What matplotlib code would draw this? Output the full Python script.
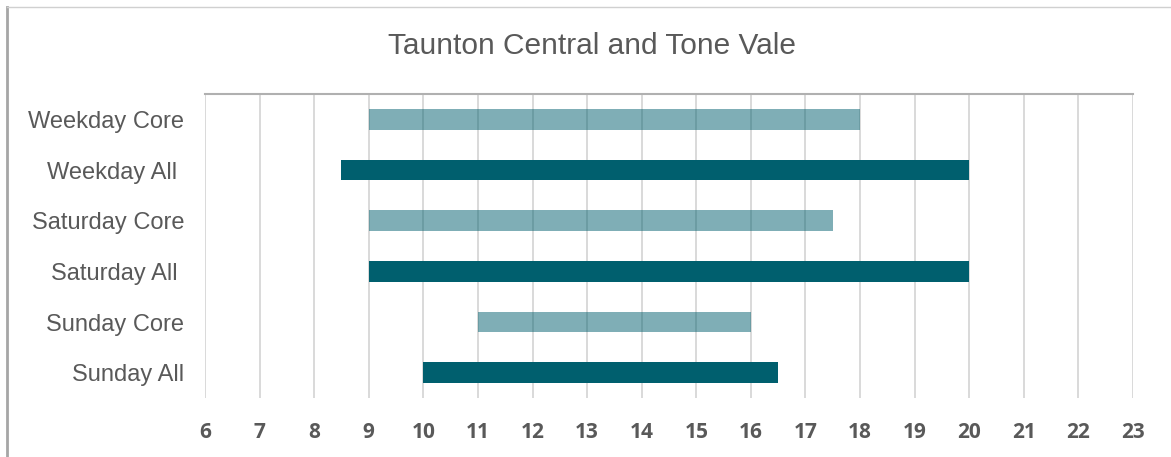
import matplotlib.pyplot as plt
from matplotlib.lines import Line2D

categories = ["Weekday Core", "Weekday All ", "Saturday Core", "Saturday All ",
              "Sunday Core", "Sunday All"]
starts = [9, 8.5, 9, 9, 11, 10]
ends = [18, 20, 17.5, 20, 16, 16.5]
is_core = [True, False, True, False, True, False]
xticks = list(range(6, 24))

teal = "#005F6E"
grey_txt = "#595959"

fig = plt.figure(figsize=(11.71, 4.57), dpi=100)
ax = fig.add_axes([205/1171, 1 - 398/457, 928/1171, 304/457])

ypos = list(range(len(categories)))
for y, s, e, core in zip(ypos, starts, ends, is_core):
    ax.barh(y, e - s, left=s, height=0.41, color=teal,
            alpha=0.5 if core else 1.0, zorder=3)

ax.set_xlim(6, 23)
ax.set_ylim(len(categories) - 0.5, -0.5)
ax.set_xticks(xticks)
ax.set_xticklabels([str(t) for t in xticks], fontfamily="Open Sans",
                   fontweight="bold", fontsize=15, color=grey_txt)
ax.set_yticks(ypos)
ax.set_yticklabels(categories, fontfamily="Liberation Sans", fontsize=17,
                   color=grey_txt)
ax.tick_params(axis="x", length=0, pad=17)
ax.tick_params(axis="y", length=0, pad=15)
ax.grid(axis="x", color="#D9D9D9", linewidth=1.4, zorder=0)
ax.set_axisbelow(True)
for side in ["left", "right", "bottom"]:
    ax.spines[side].set_visible(False)
ax.spines["top"].set_color("#B0B0B0")
ax.spines["top"].set_linewidth(1.5)

fig.text(592/1171, 1 - 46/457, "Taunton Central and Tone Vale",
         fontfamily="Liberation Sans", fontsize=21.5, color=grey_txt,
         ha="center", va="center")

# outer chart border (left and top edges visible)
fig.add_artist(Line2D([7/1171, 7/1171], [0, 1 - 7/457], color="#A6A6A6",
                      linewidth=2, transform=fig.transFigure))
fig.add_artist(Line2D([7/1171, 1], [1 - 7/457, 1 - 7/457], color="#D0D0D0",
                      linewidth=1, transform=fig.transFigure))

fig.savefig("out.png", dpi=100, facecolor="white")
